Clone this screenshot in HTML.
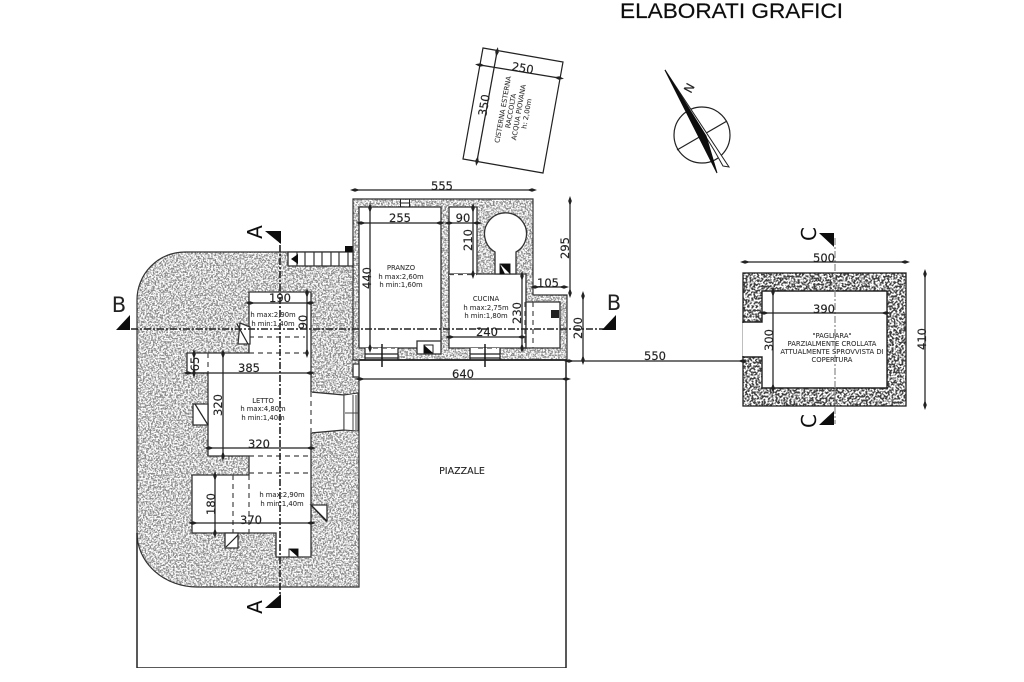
<!DOCTYPE html>
<html><head><meta charset="utf-8"><style>
html,body{margin:0;padding:0;background:#fff}
svg{display:block}
text{font-family:"DejaVu Sans","Liberation Sans",sans-serif;fill:#222}
.d{font-size:11.5px;text-anchor:middle;stroke:#222;stroke-width:.15}
.r{font-size:6.8px;text-anchor:middle;fill:#333;stroke:#333;stroke-width:.08}
.s{font-size:21px;fill:#111}
.l{fill:none;stroke:#222;stroke-width:1.2}
.w{fill:#fff;stroke:#333;stroke-width:1.3}
.dash{fill:none;stroke:#444;stroke-width:1.2;stroke-dasharray:5 4}
.dim{fill:none;stroke:#222;stroke-width:1.25;marker-start:url(#a);marker-end:url(#a)}
.cut{fill:none;stroke:#222;stroke-width:1.6;stroke-dasharray:7 2 2 2}
</style></head><body>
<svg width="1024" height="682" viewBox="0 0 1024 682" xmlns="http://www.w3.org/2000/svg">
<defs>
<marker id="a" viewBox="-5 -2 10 4" markerWidth="10" markerHeight="4" orient="auto" markerUnits="userSpaceOnUse"><path d="M-5 0L0 -1.8L5 0L0 1.8Z" fill="#222"/></marker>
<filter id="n1" x="0" y="0" width="100%" height="100%"><feTurbulence type="fractalNoise" baseFrequency="0.6" numOctaves="2" seed="4"/><feColorMatrix values="0 0 0 0 .25  0 0 0 0 .25  0 0 0 0 .25  3.5 3.5 0 0 -3"/><feComposite in2="SourceGraphic" operator="over"/></filter>
<filter id="n2" x="0" y="0" width="100%" height="100%"><feTurbulence type="fractalNoise" baseFrequency="0.5" numOctaves="2" seed="9"/><feColorMatrix values="0 0 0 0 .05  0 0 0 0 .05  0 0 0 0 .05  7 7 0 0 -6.4"/><feComposite in2="SourceGraphic" operator="over"/></filter>
<clipPath id="main"><path d="M359 252H185A48 48 0 0 0 137 300V533A60 54 0 0 0 197 587H359Z"/></clipPath>
<clipPath id="bld"><path d="M353 199H533V295H567V360H353Z"/></clipPath>
<clipPath id="pag"><rect x="743" y="273" width="163" height="133"/></clipPath>
<filter id="soft" x="0" y="0" width="100%" height="100%"><feGaussianBlur stdDeviation="0.35"/></filter>
</defs>
<rect width="1024" height="682" fill="#fff"/>
<g filter="url(#soft)">
<text x="620" y="18" class="s" textLength="223" lengthAdjust="spacingAndGlyphs" style='font-family:"Liberation Sans",sans-serif;stroke:#111;stroke-width:.2'>ELABORATI GRAFICI</text>

<!-- Cisterna -->
<path d="M483 48L563 62L543 173L463 159Z" class="l"/>
<path d="M480 65L559 78" class="dim"/>
<path d="M497 52L477 161" class="dim"/>
<text class="d" transform="translate(522 72) rotate(10)">250</text>
<text class="d" transform="translate(488 106) rotate(-80)">350</text>
<g transform="translate(517 112) rotate(-80)"><text class="r" y="-12">CISTERNA ESTERNA</text><text class="r" y="-4">RACCOLTA</text><text class="r" y="4">ACQUA PIOVANA</text><text class="r" y="12">h: 2,00m</text></g>

<!-- North -->
<circle cx="702" cy="135" r="28" class="l"/>
<path d="M677 150L727 121" class="l"/>
<path d="M665 70L729 167L723 166L714 150Z" fill="#fff" stroke="#222"/>
<path d="M665 70L706 136L717 173Z" fill="#111" stroke="#111"/>
<text class="d" transform="translate(693 90) rotate(-62)" style="font-size:12px">N</text>

<!-- Main textured mass -->
<path d="M359 252H185A48 48 0 0 0 137 300V533A60 54 0 0 0 197 587H359Z" fill="#fff"/>
<rect x="130" y="245" width="235" height="350" fill="#fff" filter="url(#n1)" clip-path="url(#main)"/>
<path d="M359 252H185A48 48 0 0 0 137 300V533A60 54 0 0 0 197 587H359Z" fill="none" stroke="#333" stroke-width="1.2"/>

<!-- Building -->
<path d="M353 199H533V295H567V360H353Z" fill="#fff"/>
<rect x="350" y="195" width="220" height="168" fill="#fff" filter="url(#n1)" clip-path="url(#bld)"/>
<path d="M353 199H533V295H567V360H353Z" fill="none" stroke="#333" stroke-width="1.2"/>
<rect x="359" y="207" width="82" height="141" class="w"/>
<rect x="449" y="207" width="28" height="68" class="w"/>
<path d="M449 274H526V348H449Z" class="w"/>
<path d="M526 302H560V348H526Z" class="w"/>
<path d="M449 275H476" stroke="#fff" stroke-width="2"/><path d="M449 274.500H477" class="dash"/>
<path d="M525 302V348M533 302V348" class="dash"/>
<path d="M495 274V252A21 21 0 1 1 516 252V274Z" class="w"/>
<rect x="417" y="341" width="24" height="13" class="w"/>
<rect x="365" y="348" width="33" height="12" fill="#fff"/><path d="M365 354H398M365 358H398M365 348V360M398 348V360" class="l"/>
<rect x="470" y="348" width="30" height="12" fill="#fff"/><path d="M470 354H500M470 358H500M470 348V360M500 348V360" class="l"/>
<path d="M382 344V367M485 344V367" stroke="#111" stroke-width="1.4"/>
<path d="M373 348H395M478 348H497" class="dash"/>
<rect x="400" y="200" width="10" height="6" fill="#fff"/><path d="M400.500 199V207M409.500 199V207M400 203H410" stroke="#222"/>
<!-- black squares -->
<g><rect x="500" y="264" width="10" height="10" fill="#fff" stroke="#222"/><path d="M500 264H510V274Z" fill="#111"/><path d="M500 264L500 274L505 274Z" fill="#111"/></g>
<g><rect x="424" y="345" width="9" height="8" fill="#fff" stroke="#222"/><path d="M424 345L433 353H424Z" fill="#111"/></g>
<g><rect x="551" y="310" width="8" height="8" fill="#fff"/><path d="M551 310H559V318Z M551 310L559 318H551Z" fill="#222"/></g>

<!-- Piazzale -->
<path d="M359 360H566V668H137V533" fill="none" stroke="#222" stroke-width="1.5"/>
<path d="M360 360H567" stroke="#222" stroke-width="1.5"/>

<!-- Stairs -->
<rect x="288" y="252" width="65" height="14" class="w"/>
<path d="M297 252V266M305 252V266M314 252V266M322 252V266M331 252V266M339 252V266M348 252V266" stroke="#333" stroke-width="1.2"/>
<path d="M291 259L298 254V264Z" fill="#111"/>
<rect x="345" y="246" width="8" height="6" fill="#111"/>
<path d="M353 252V200" stroke="#333"/>

<!-- Rooms -->
<path d="M249 292H311V392L344 395V430L311 433V557H276V533H192V475H249V456H208V373H187V353H249Z" fill="#fff" stroke="#333" stroke-width="1.3"/>
<path d="M344 395L358 393V431L344 430" fill="#fff" stroke="#333"/>
<path d="M344 395V430M353 395V430M356 395V430M345 413H358" stroke="#444"/>
<path d="M311 392V433" stroke="#fff" stroke-width="1.8"/><path d="M311 392V433" class="dash"/>
<path d="M249 337H305M249 353H311M249 456H311M249 473H311M233 475V533M249 475V533M208 353V373" class="dash"/>
<path d="M240 323L250 327V344H238Z" class="w"/><path d="M237 324L248 344" class="l"/>
<path d="M193 404H208V425H193Z" class="w"/><path d="M195 404L208 425" class="l"/>
<path d="M225 533H238V548H225Z" class="w"/><path d="M226 547L238 535" class="l"/>
<path d="M311 505L327 505V521H326Z" class="w"/><path d="M311 505L327 521" class="l"/>
<path d="M353 364H359V377H353Z" class="w"/>
<g><rect x="289" y="549" width="9" height="8" fill="#fff" stroke="#222"/><path d="M289 549H298V557Z" fill="#111"/></g>

<!-- Pagliara -->
<rect x="743" y="273" width="163" height="133" fill="#fff"/>
<rect x="740" y="270" width="170" height="140" fill="#fff" filter="url(#n2)" clip-path="url(#pag)"/>
<rect x="743" y="273" width="163" height="133" fill="none" stroke="#222" stroke-width="1.3"/>
<path d="M743 322H762V291H887V388H762V357H743Z" fill="#fff" stroke="#222" stroke-width="1.4"/>
<path d="M743.500 323V356" stroke="#fff" stroke-width="2"/>

<!-- Cut lines -->
<path d="M280 232V606" class="cut"/>
<path d="M118 329H610" class="cut"/>
<path d="M835 238V424" stroke="#888" stroke-width="1.2" stroke-dasharray="7 2 2 2"/>
<path d="M265 231H281V244Z" fill="#111"/>
<path d="M281 594V608H265Z" fill="#111"/>
<path d="M116 330L130 330V315Z" fill="#111"/>
<path d="M602 330H616V315Z" fill="#111"/>
<path d="M819 233H834V247Z" fill="#111"/>
<path d="M834 411V425H819Z" fill="#111"/>

<text class="s" transform="translate(262 232) rotate(-90)" text-anchor="middle" style='font-size:20px;font-family:"DejaVu Sans",sans-serif'>A</text>
<text class="s" transform="translate(262 607) rotate(-90)" text-anchor="middle" style='font-size:20px;font-family:"DejaVu Sans",sans-serif'>A</text>
<text x="119" y="312" text-anchor="middle" style="font-size:21px">B</text>
<text x="614" y="310" text-anchor="middle" style="font-size:21px">B</text>
<text class="s" transform="translate(816 234) rotate(-90)" text-anchor="middle" style='font-size:20px;font-family:"DejaVu Sans",sans-serif'>C</text>
<text class="s" transform="translate(816 421) rotate(-90)" text-anchor="middle" style='font-size:20px;font-family:"DejaVu Sans",sans-serif'>C</text>

<!-- Dimensions -->
<path d="M355 190H532" class="dim"/><text class="d" x="442" y="190">555</text>
<path d="M361 223H440" class="dim"/><text class="d" x="400" y="222">255</text>
<path d="M370 208V348" class="dim"/><text class="d" transform="translate(371 278) rotate(-90)">440</text>
<path d="M449 223H477" class="dim"/><text class="d" x="463" y="222">90</text>
<path d="M473 208V274" class="dim"/><text class="d" transform="translate(472 240) rotate(-90)">210</text>
<path d="M570 201V293" class="dim"/><text class="d" transform="translate(569 248) rotate(-90)">295</text>
<path d="M535 287H564" class="dim"/><text class="d" x="548" y="287">105</text>
<path d="M583 296V360" class="dim"/><text class="d" transform="translate(582 328) rotate(-90)">200</text>
<path d="M522 276V348" class="dim"/><text class="d" transform="translate(521 313) rotate(-90)">230</text>
<path d="M450 337H522" class="dim"/><text class="d" x="487" y="336">240</text>
<path d="M360 379H566" class="dim"/><text class="d" x="463" y="378">640</text>
<path d="M569 361H743" class="dim"/><text class="d" x="655" y="360">550</text>
<path d="M745 262H905" class="dim"/><text class="d" x="824" y="262">500</text>
<path d="M925 274V405" class="dim"/><text class="d" transform="translate(926 339) rotate(-90)">410</text>
<path d="M764 313H886" class="dim"/><text class="d" x="824" y="313">390</text>
<path d="M773 292V388" class="dim"/><text class="d" transform="translate(773 340) rotate(-90)">300</text>
<path d="M250 303H310" class="dim"/><text class="d" x="280" y="302">190</text>
<path d="M307 293V353" class="dim"/><text class="d" transform="translate(307 322) rotate(-90)">90</text>
<path d="M188 373H310" class="dim"/><text class="d" x="249" y="372">385</text>
<path d="M194 354V373" class="dim"/><text class="d" transform="translate(199 364) rotate(-90)">65</text>
<path d="M223 354V456" class="dim"/><text class="d" transform="translate(222 405) rotate(-90)">320</text>
<path d="M209 448H311" class="dim"/><text class="d" x="259" y="448">320</text>
<path d="M193 523H311" class="dim"/><text class="d" x="251" y="524">370</text>
<path d="M215 476V533" class="dim"/><text class="d" transform="translate(215 504) rotate(-90)">180</text>

<!-- Room labels -->
<text class="r" x="401" y="270">PRANZO</text><text class="r" x="401" y="279">h max:2,60m</text><text class="r" x="401" y="287">h min:1,60m</text>
<text class="r" x="486" y="301">CUCINA</text><text class="r" x="486" y="310">h max:2,75m</text><text class="r" x="486" y="318">h min:1,80m</text>
<text class="r" x="273" y="317">h max:2,90m</text><text class="r" x="273" y="326">h min:1,40m</text>
<text class="r" x="263" y="403">LETTO</text><text class="r" x="263" y="411">h max:4,80m</text><text class="r" x="263" y="420">h min:1,40m</text>
<text class="r" x="282" y="497">h max:2,90m</text><text class="r" x="282" y="506">h min:1,40m</text>
<text x="462" y="474" text-anchor="middle" style="font-size:9.500px;stroke:#222;stroke-width:.1">PIAZZALE</text>
<text class="r" x="832" y="338">"PAGLIARA"</text><text class="r" x="832" y="346">PARZIALMENTE CROLLATA</text><text class="r" x="832" y="354">ATTUALMENTE SPROVVISTA DI</text><text class="r" x="832" y="362">COPERTURA</text>
</g>
</svg>
</body></html>
